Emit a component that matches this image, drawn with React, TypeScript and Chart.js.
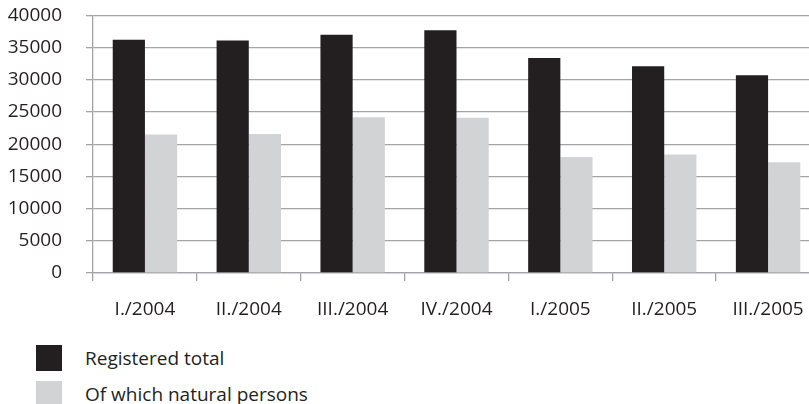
import React, { useEffect, useRef } from "react";
import { Chart, registerables } from "chart.js";

Chart.register(...registerables);

const categories = ["I./2004", "II./2004", "III./2004", "IV./2004", "I./2005", "II./2005", "III./2005"];
const registeredTotal = [36200, 36100, 37000, 37700, 33400, 32100, 30700];
const naturalPersons = [21500, 21600, 24200, 24100, 18000, 18400, 17200];
const seriesNames = ["Registered total", "Of which natural persons"];
const seriesColors = ["#231f20", "#d1d3d4"];

const FONT = "'Open Sans', 'DejaVu Sans', sans-serif";
const TEXT = "#231f20";
const GRID = "#a2a4a7";

export default function App() {
  const ref = useRef<HTMLCanvasElement | null>(null);

  useEffect(() => {
    if (!ref.current) return;
    const chart = new Chart(ref.current, {
      type: "bar",
      data: {
        labels: categories,
        datasets: [
          {
            label: seriesNames[0],
            data: registeredTotal,
            backgroundColor: seriesColors[0],
            borderWidth: 0,
            categoryPercentage: 0.62,
            barPercentage: 1,
          },
          {
            label: seriesNames[1],
            data: naturalPersons,
            backgroundColor: seriesColors[1],
            borderWidth: 0,
            categoryPercentage: 0.62,
            barPercentage: 1,
          },
        ],
      },
      options: {
        responsive: false,
        animation: false,
        layout: { padding: { top: 14, right: 2, bottom: 0, left: 0 } },
        plugins: {
          legend: { display: false },
          tooltip: { enabled: false },
        },
        scales: {
          x: {
            offset: true,
            grid: {
              display: true,
              offset: true,
              drawOnChartArea: false,
              drawTicks: true,
              tickLength: 8,
              color: GRID,
              lineWidth: 1.3,
            },
            border: { display: true, color: GRID, width: 1.3 },
            ticks: {
              color: TEXT,
              font: { family: FONT, size: 19 },
              padding: 17,
              maxRotation: 0,
              autoSkip: false,
            },
            afterFit: (s: any) => {
              s.height = 57;
            },
          },
          y: {
            min: 0,
            max: 40000,
            grid: {
              color: GRID,
              lineWidth: 1.3,
              tickLength: 7,
            },
            border: { display: true, color: GRID, width: 1.3 },
            ticks: {
              stepSize: 5000,
              color: TEXT,
              font: { family: FONT, size: 19 },
              padding: 24,
              callback: (v: any) => String(v),
            },
            afterFit: (s: any) => {
              s.width = 93;
            },
          },
        },
      },
    });
    return () => chart.destroy();
  }, []);

  return (
    <div
      style={{
        position: "fixed",
        left: 0,
        top: 0,
        width: 809,
        height: 404,
        overflow: "hidden",
        background: "#fff",
        fontFamily: FONT,
      }}
    >
      <canvas ref={ref} width={822} height={350} style={{ position: "absolute", left: 0, top: -20 }} />
      {seriesNames.map((name, i) => (
        <div
          key={name}
          style={{
            position: "absolute",
            left: 36,
            top: 345 + i * 36,
            height: 26,
            display: "flex",
            alignItems: "center",
            whiteSpace: "nowrap",
          }}
        >
          <div style={{ width: 26, height: 26, background: seriesColors[i] }} />
          <span style={{ marginLeft: 23, fontSize: 19, color: TEXT }}>{name}</span>
        </div>
      ))}
    </div>
  );
}
